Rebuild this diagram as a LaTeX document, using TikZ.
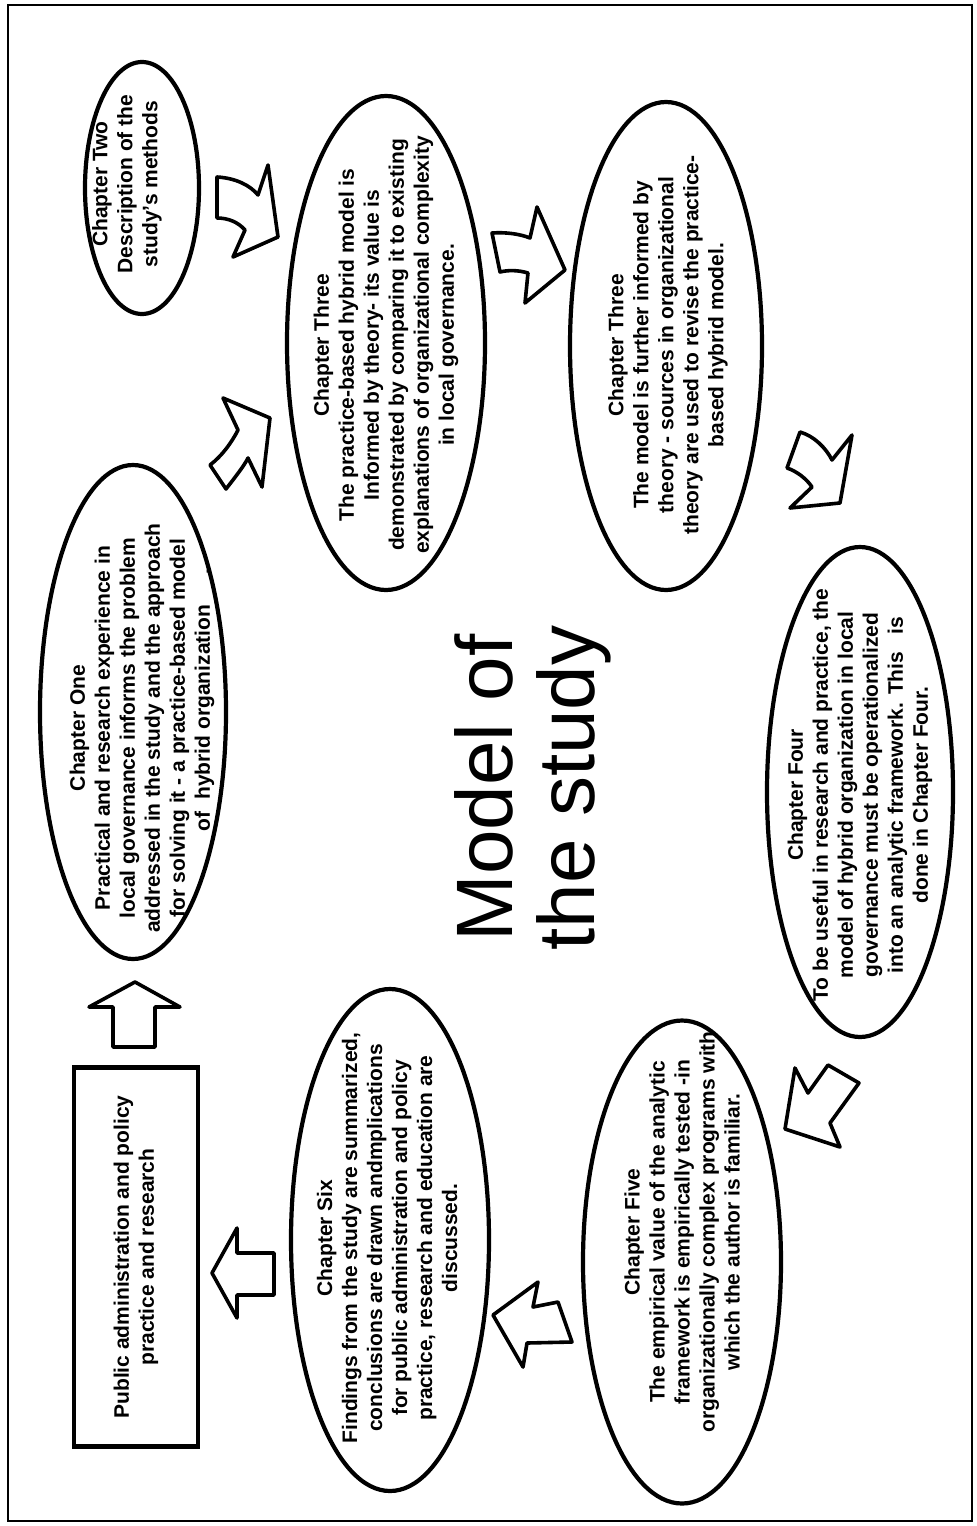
\documentclass[tikz,border=0pt]{standalone}
\usepackage{fontspec}
\setmainfont{Liberation Sans}
\usetikzlibrary{shapes.geometric}
\begin{document}
\begin{tikzpicture}[x=1pt,y=-1pt,
  oval/.style={ellipse,draw,line width=4.2pt,inner sep=0pt,rotate=90},
  ctext/.style={rotate=90,align=center,font=\bfseries\fontsize{21}{25}\selectfont,inner sep=0pt},
  blockarrow/.style={draw,line width=3.6pt,line join=round,fill=white}]
\useasboundingbox (0,0) rectangle (977,1526);
\draw[line width=2pt] (8,5) rectangle (972,1521);

% ellipses
\node[oval,minimum width=494pt,minimum height=186pt] (e1) at (133,712) {};
\node[oval,minimum width=252pt,minimum height=114pt] (e2) at (142,188) {};
\node[oval,minimum width=494pt,minimum height=198pt] (e3a) at (386,343) {};
\node[oval,minimum width=488pt,minimum height=192pt] (e3b) at (666,346) {};
\node[oval,minimum width=490pt,minimum height=186pt] (e4) at (860,792) {};
\node[oval,minimum width=483pt,minimum height=198pt] (e5) at (682,1262) {};
\node[oval,minimum width=502pt,minimum height=198pt] (e6) at (390,1240) {};

% box
\node[draw,line width=4.5pt,minimum width=379pt,minimum height=124pt,rotate=90,inner sep=0pt] (box) at (136,1257) {};
\node[ctext] (boxt) at (box.center) {Public administration and policy\\practice and research};

% texts
\node[ctext] (t1) at (142,728) {Chapter One\\Practical and research experience in\\local governance informs the problem\\addressed in the study and the approach\\for solving it - a practice-based model\\\hspace*{56pt}of\ \ hybrid organization\hspace{30pt}.};
\node[ctext] (t2) at (127,184) {Chapter Two\\Description of the\\study's methods};
\node[ctext] (t3a) at (386,345) {Chapter Three\\The practice-based hybrid model is\\Informed by theory- its value is\\demonstrated by comparing it to existing\\explanations of organizational complexity\\in local governance.};
\node[ctext] (t3b) at (668,345) {Chapter Three\\The model is further informed by\\theory - sources in organizational\\theory are used to revise the practice-\\based hybrid model.};
\node[ctext] (t4) at (860,795) {Chapter Four\\To be useful in research and practice, the\\model of hybrid organization in local\\governance must be operationalized\\into an analytic framework. This\ \ \ is\\done in Chapter Four.};
\node[ctext] (t5) at (682,1232) {Chapter Five\\The empirical value of the analytic\\framework is empirically tested -in\\organizationally complex programs with\\which the author is familiar.};
\node[ctext] (t6) at (387,1238) {Chapter Six\\Findings from the study are summarized,\\conclusions are drawn andmplications\\for public administration and policy\\practice, research and education are\\discussed.};

% title
\node[rotate=90,align=center,font=\fontsize{80}{82}\selectfont,inner sep=0pt] (title) at (533,788) {Model of\\the study};

% block arrows
\draw[blockarrow] (135,982) -- (180,1007) -- (155,1007) -- (155,1047) -- (113,1047) -- (113,1007) -- (89,1007) -- cycle;
\draw[blockarrow] (212,1273) -- (237,1228) -- (237,1253) -- (274,1253) -- (274,1295) -- (237,1295) -- (237,1318) -- cycle;
% Two -> Three A
\draw[blockarrow] (217,218) -- (217,177) .. controls (235,178) and (250,185) .. (258,195) -- (268,165) -- (278,237) -- (233,257) -- (245,230) .. controls (238,222) and (228,218) .. cycle;
% One -> Three A
\draw[blockarrow] (210,465) -- (226,489) .. controls (236,476) and (244,466) .. (248,458) -- (262,487) -- (270,418) -- (223,398) -- (238,430) .. controls (232,442) and (222,456) .. cycle;
% Three A -> Three B
\draw[blockarrow] (500,272) -- (492,233) .. controls (506,232) and (520,234) .. (530,238) -- (537,207) -- (565,270) -- (525,303) -- (528,273) .. controls (518,270) and (508,270) .. cycle;
% Three B -> Four
\draw[blockarrow] (787,468) -- (800,432) .. controls (814,436) and (826,448) .. (832,460) -- (852,435) -- (840,503) -- (790,508) -- (812,487) .. controls (806,478) and (796,471) .. cycle;
% Four -> Five
\draw[blockarrow] (785,1129) -- (795,1068) -- (808,1093) -- (828,1065) -- (859,1083) -- (830,1123) -- (840,1147) -- cycle;
% Five -> Six
\draw[blockarrow] (493,1315) -- (538,1282) -- (533,1307) -- (558,1302) -- (572,1342) -- (527,1343) -- (523,1367) -- cycle;
\end{tikzpicture}
\end{document}
